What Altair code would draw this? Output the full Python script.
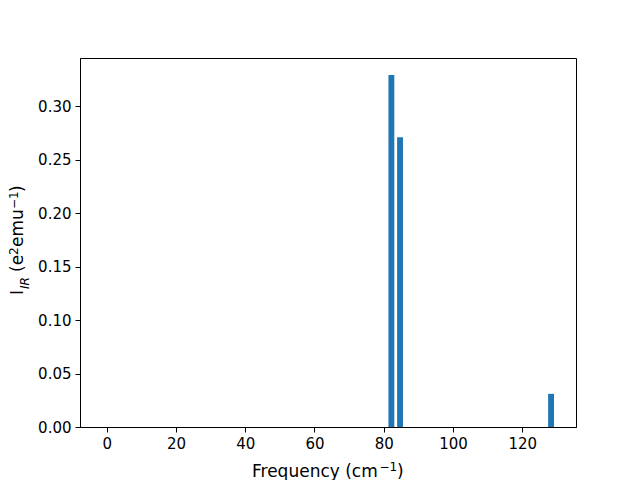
import altair as alt
import pandas as pd

freq = [82.2, 84.7, 128.3]
intensity = [0.329, 0.271, 0.031]
x_ticks = [0, 20, 40, 60, 80, 100, 120]
y_ticks = [0.0, 0.05, 0.10, 0.15, 0.20, 0.25, 0.30]

df = pd.DataFrame({"freq": freq, "intensity": intensity})
FONT = "DejaVu Sans"
BAR_W = 1.7

base = alt.Chart(df).transform_calculate(
    x0=f"datum.freq - {BAR_W/2}", x1=f"datum.freq + {BAR_W/2}"
)

bars = base.mark_bar(color="#1f77b4").encode(
    x=alt.X("x0:Q",
            scale=alt.Scale(domain=[-7.7, 135.5], nice=False, zero=False),
            axis=alt.Axis(values=x_ticks, title="", grid=False,
                          format="d", labelFlush=False)),
    x2="x1:Q",
    y=alt.Y("intensity:Q",
            scale=alt.Scale(domain=[0, 0.345], nice=False, padding=0),
            axis=alt.Axis(values=y_ticks, format=".2f", title="", grid=False,
                          labelFlush=False)),
    y2=alt.datum(0),
)

one = pd.DataFrame({"a": [0]})


def piece(txt, x, y, size=17, angle=0, italic=False):
    kw = dict(align="left", baseline="alphabetic", font=FONT, fontSize=size, color="black")
    if angle:
        kw["angle"] = angle
    if italic:
        kw["fontStyle"] = "italic"
    return alt.Chart(one).mark_text(**kw).encode(
        x=alt.value(x), y=alt.value(y), text=alt.value(txt))


# y-axis title: I_IR (e^2 emu^-1), rotated
YB = -57  # main baseline (plot coords)
ytitle = [
    piece("I", YB, 237, angle=270),
    piece("IR", YB + 6, 231, size=12, angle=270, italic=True),
    piece("(e", YB, 214, angle=270),
    piece("2", YB - 5, 197, size=12, angle=270),
    piece("emu", YB, 189, angle=270),
    piece("\u22121", YB - 5, 151, size=12, angle=270),
    piece(")", YB, 134, angle=270),
]

# x-axis title: Frequency (cm^-1)
xtitle = [
    piece("Frequency (cm", 172, 419),
    piece("\u22121", 299.5, 413, size=12),
    piece(")", 317, 419),
]

chart = alt.layer(bars, *ytitle, *xtitle).properties(
    width=496, height=369,
    padding={"left": 72, "top": 50, "right": 56, "bottom": 53},
    autosize=alt.AutoSizeParams(type="none"),
    background="white",
).configure_view(stroke="black", strokeWidth=1).configure_axis(
    labelFont=FONT, labelFontSize=15,
    labelColor="black",
    domainColor="black", tickColor="black", tickSize=5, labelPadding=4,
    domainWidth=1, tickWidth=1,
)

chart.save("out.html", embed_options={"renderer": "svg", "actions": False})
